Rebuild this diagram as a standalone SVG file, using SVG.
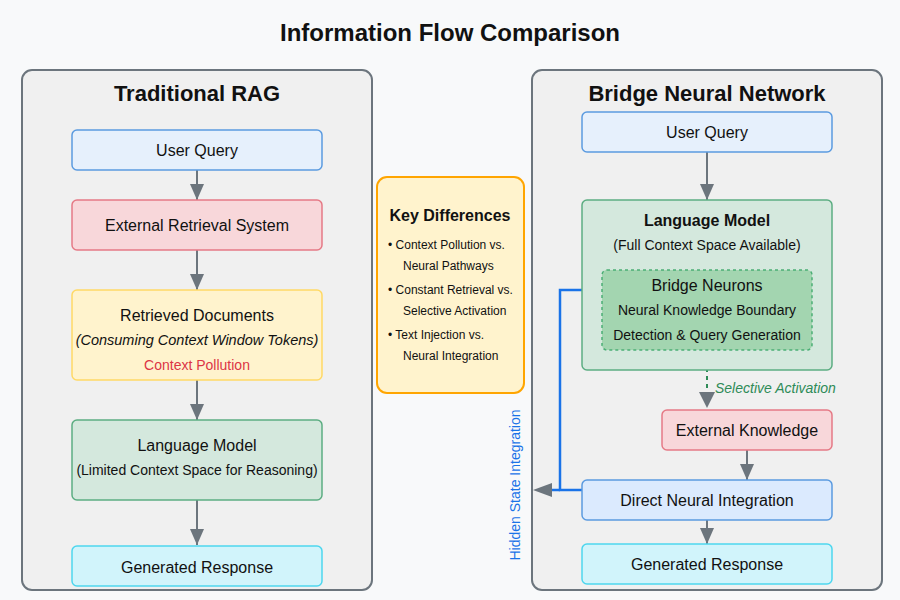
<svg xmlns="http://www.w3.org/2000/svg" width="900" height="600" viewBox="0 0 900 600">
<style>
text{font-family:"Liberation Sans",Arial,sans-serif;fill:#111;text-anchor:middle;dominant-baseline:central}
.title{font-size:24px;font-weight:bold}
.ptitle{font-size:22px;font-weight:bold}
.t16{font-size:16px}
.t14{font-size:14px}
.t12{font-size:12px;text-anchor:start}
.panel{fill:#f0f0f0;stroke:#6c757d;stroke-width:2}
.blue{fill:#e6f0fc;stroke:#5b9be0;stroke-width:1.5}
.pink{fill:#f8d7da;stroke:#e57a86;stroke-width:1.5}
.yellow{fill:#fff3cd;stroke:#ffd966;stroke-width:1.5}
.green{fill:#d4e8dd;stroke:#5cad82;stroke-width:1.5}
.cyan{fill:#d1f4fb;stroke:#4dd6ee;stroke-width:1.5}
.bridge{fill:#a3d5b0;stroke:#4caf76;stroke-width:1.5;stroke-dasharray:3 3}
.conn{stroke:#6c757d;stroke-width:2;fill:none}
.bl{stroke:#1a73e8;stroke-width:2.5;fill:none}
</style>
<defs>
<marker id="ahL" markerWidth="16" markerHeight="14" refX="16" refY="7" orient="auto" markerUnits="userSpaceOnUse">
<path d="M0,0 L16,7 L0,14 Z" fill="#6c757d"/>
</marker>
</defs>
<rect width="900" height="600" fill="#f8f9fa"/>
<text class="title" x="450" y="32">Information Flow Comparison</text>

<g id="panel-left">
<rect class="panel" x="22" y="70" width="350" height="520" rx="10"/>
<text class="ptitle" x="197" y="93">Traditional RAG</text>
</g>
<g id="panel-right">
<rect class="panel" x="532" y="70" width="350" height="520" rx="10"/>
<text class="ptitle" x="707" y="93">Bridge Neural Network</text>
</g>

<g id="connectors">
<line class="conn" x1="197" y1="170" x2="197" y2="200" marker-end="url(#ahL)"/>
<line class="conn" x1="197" y1="250" x2="197" y2="290" marker-end="url(#ahL)"/>
<line class="conn" x1="197" y1="380" x2="197" y2="420" marker-end="url(#ahL)"/>
<line class="conn" x1="197" y1="500" x2="197" y2="545" marker-end="url(#ahL)"/>
<line class="conn" x1="707" y1="152" x2="707" y2="200" marker-end="url(#ahL)"/>
<line x1="707" y1="360" x2="707" y2="395" stroke="#2e8b57" stroke-width="2" stroke-dasharray="4 4"/>
<path d="M699,392 L715,392 L707,408 Z" fill="#6c757d"/>
<line class="conn" x1="747" y1="450" x2="747" y2="480" marker-end="url(#ahL)"/>
<line class="conn" x1="707" y1="520" x2="707" y2="544" marker-end="url(#ahL)"/>
<polyline class="bl" points="582,490 560,490 560,290 590,290"/>
<path d="M586,283 L602,290 L586,297 Z" fill="#6c757d"/>
<line class="bl" x1="560" y1="490" x2="548" y2="490"/>
<path d="M552,483 L533,490 L552,497 Z" fill="#6c757d"/>
<text x="515" y="485" font-size="14" style="fill:#1a73e8" transform="rotate(-90 515 485)">Hidden State Integration</text>
<text x="715" y="388" font-size="14" font-style="italic" style="fill:#2e8b57;text-anchor:start">Selective Activation</text>
</g>

<g id="l-query">
<rect class="blue" x="72" y="130" width="250" height="40" rx="5"/>
<text class="t16" x="197" y="150">User Query</text>
</g>
<g id="l-retrieval">
<rect class="pink" x="72" y="200" width="250" height="50" rx="5"/>
<text class="t16" x="197" y="225">External Retrieval System</text>
</g>
<g id="l-docs">
<rect class="yellow" x="72" y="290" width="250" height="90" rx="5"/>
<text class="t16" x="197" y="315">Retrieved Documents</text>
<text x="197" y="340" font-style="italic" font-size="14.5">(Consuming Context Window Tokens)</text>
<text class="t14" x="197" y="365" style="fill:#dc3545">Context Pollution</text>
</g>
<g id="l-lm">
<rect class="green" x="72" y="420" width="250" height="80" rx="5"/>
<text class="t16" x="197" y="445">Language Model</text>
<text class="t14" x="197" y="470">(Limited Context Space for Reasoning)</text>
</g>
<g id="l-resp">
<rect class="cyan" x="72" y="546" width="250" height="40" rx="5"/>
<text class="t16" x="197" y="567">Generated Response</text>
</g>

<g id="key-differences">
<rect x="377" y="177" width="147" height="216" rx="10" fill="#fff3cd" stroke="#ffa500" stroke-width="2"/>
<text x="450" y="215" font-size="16" font-weight="bold">Key Differences</text>
<text class="t12" x="388" y="245">• Context Pollution vs.</text>
<text class="t12" x="403" y="266">Neural Pathways</text>
<text class="t12" x="388" y="290">• Constant Retrieval vs.</text>
<text class="t12" x="403" y="311">Selective Activation</text>
<text class="t12" x="388" y="335">• Text Injection vs.</text>
<text class="t12" x="403" y="356">Neural Integration</text>
</g>

<g id="r-query">
<rect class="blue" x="582" y="112" width="250" height="40" rx="5"/>
<text class="t16" x="707" y="132">User Query</text>
</g>
<g id="r-lm">
<rect class="green" x="582" y="200" width="250" height="170" rx="5"/>
<text x="707" y="220" font-size="16" font-weight="bold">Language Model</text>
<text class="t14" x="707" y="245">(Full Context Space Available)</text>
</g>
<g id="r-bridge">
<rect class="bridge" x="602" y="270" width="210" height="80" rx="5"/>
<text class="t16" x="707" y="285">Bridge Neurons</text>
<text class="t14" x="707" y="310">Neural Knowledge Boundary</text>
<text class="t14" x="707" y="335">Detection &amp; Query Generation</text>
</g>
<g id="r-ext">
<rect class="pink" x="662" y="410" width="170" height="40" rx="5"/>
<text class="t16" x="747" y="430">External Knowledge</text>
</g>
<g id="r-dni">
<rect class="blue" x="582" y="480" width="250" height="40" rx="5" style="fill:#dbeafe"/>
<text class="t16" x="707" y="500">Direct Neural Integration</text>
</g>
<g id="r-resp">
<rect class="cyan" x="582" y="544" width="250" height="40" rx="5"/>
<text class="t16" x="707" y="564">Generated Response</text>
</g>
</svg>
